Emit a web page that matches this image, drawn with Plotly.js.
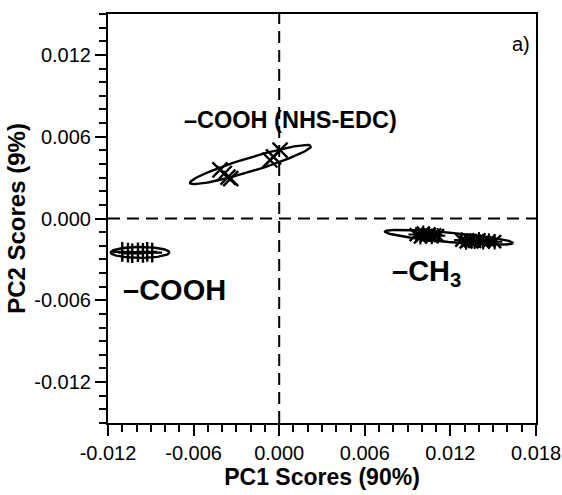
<!DOCTYPE html>
<html>
<head>
<meta charset="utf-8">
<script src="https://cdn.plot.ly/plotly-3.0.1.min.js"></script>
<style>html,body{margin:0;padding:0;background:#fff;}#chart{width:562px;height:495px;}</style>
</head>
<body>
<div id="chart"></div>
<script>
// ---- Data ----
const groupNames = ['-COOH', '-COOH (NHS-EDC)', '-CH3'];

const coohX = [-0.01100, -0.01060, -0.01030, -0.00990, -0.00955, -0.00925, -0.00890];
const coohY = [-0.00245, -0.00250, -0.00255, -0.00248, -0.00252, -0.00245, -0.00250];

const nhsX = [-0.00415, -0.00385, -0.00359, -0.00340, -0.00065, -0.00040, 0.00006];
const nhsY = [0.00356, 0.00330, 0.00304, 0.00292, 0.00429, 0.00452, 0.00502];

const ch3X = [0.0096, 0.0099, 0.0101, 0.0103, 0.0105, 0.0107, 0.0109, 0.0111, 0.0128, 0.0131, 0.0134, 0.0137, 0.0140, 0.0143, 0.0147, 0.0151];
const ch3Y = [-0.00118, -0.00135, -0.00108, -0.00128, -0.00115, -0.00132, -0.00120, -0.00126, -0.00158, -0.00172, -0.00162, -0.00168, -0.00156, -0.00171, -0.00165, -0.00170];

// confidence ellipses: centre, major half-axis vector, minor half-axis vector
const ellCx = [-0.00975, -0.00201, 0.01190];
const ellCy = [-0.00249, 0.00396, -0.00138];
const ellAx = [0.00205, 0.00424, 0.004486];
const ellAy = [0.00000, 0.001357, -0.000418];
const ellBx = [0.00000, 0.000140, -0.000028];
const ellBy = [0.00040, -0.000480, -0.00034];

const xTickVals = [-0.012, -0.006, 0.000, 0.006, 0.012, 0.018];
const xTickText = ['-0.012', '-0.006', '0.000', '0.006', '0.012', '0.018'];
const yTickVals = [-0.012, -0.006, 0.000, 0.006, 0.012];
const yTickText = ['-0.012', '-0.006', '0.000', '0.006', '0.012'];

// ---- Build traces ----
const FONT = 'Liberation Sans, Arial, sans-serif';
const traces = [];
for (let i = 0; i < ellCx.length; i++) {
  const ex = [], ey = [];
  for (let k = 0; k <= 120; k++) {
    const t = 2 * Math.PI * k / 120;
    ex.push(ellCx[i] + Math.cos(t) * ellAx[i] + Math.sin(t) * ellBx[i]);
    ey.push(ellCy[i] + Math.cos(t) * ellAy[i] + Math.sin(t) * ellBy[i]);
  }
  traces.push({x: ex, y: ey, mode: 'lines', line: {color: '#000', width: 2.4}, hoverinfo: 'skip', showlegend: false});
}
traces.push({x: coohX, y: coohY, mode: 'markers', name: groupNames[0], showlegend: false,
  marker: {symbol: 'cross-thin', size: 14, line: {color: '#000', width: 2.4}}});
traces.push({x: nhsX, y: nhsY, mode: 'markers', name: groupNames[1], showlegend: false,
  marker: {symbol: 'x-thin', size: 15, line: {color: '#000', width: 2.4}}});
traces.push({x: ch3X, y: ch3Y, mode: 'markers', name: groupNames[2], showlegend: false,
  marker: {symbol: 'x-thin', size: 13, line: {color: '#000', width: 2.4}}});
traces.push({x: ch3X, y: ch3Y, mode: 'markers', name: groupNames[2], showlegend: false,
  marker: {symbol: 'cross-thin', size: 11, line: {color: '#000', width: 2}}});

const axisCommon = {
  showgrid: false, zeroline: false, showline: true, linecolor: '#000', linewidth: 2,
  mirror: true, ticks: 'outside', ticklen: 11, tickwidth: 2, tickcolor: '#000',
  tickfont: {family: FONT, size: 20, color: '#000'},
  minor: {dtick: 0.001, ticks: 'outside', ticklen: 7, tickwidth: 2, tickcolor: '#000', showgrid: false}
};

const layout = {
  width: 562, height: 495,
  margin: {l: 108, r: 26, t: 14, b: 72},
  paper_bgcolor: '#fff', plot_bgcolor: '#fff',
  showlegend: false,
  xaxis: Object.assign({}, axisCommon, {
    range: [-0.012, 0.018], tickvals: xTickVals, ticktext: xTickText,
    title: {text: 'PC1 Scores (90%)', font: {family: FONT, size: 23, color: '#000', weight: 'bold'}, standoff: 4},
    minor: Object.assign({}, axisCommon.minor, {tick0: -0.012})
  }),
  yaxis: Object.assign({}, axisCommon, {
    range: [-0.015, 0.015], tickvals: yTickVals, ticktext: yTickText,
    title: {text: 'PC2 Scores (9%)', font: {family: FONT, size: 24, color: '#000', weight: 'bold'}, standoff: 2},
    minor: Object.assign({}, axisCommon.minor, {tick0: 0})
  }),
  shapes: [
    {type: 'line', xref: 'x', yref: 'paper', x0: 0, x1: 0, y0: 0, y1: 1,
     line: {color: '#000', width: 2, dash: '12px,7px'}, layer: 'below'},
    {type: 'line', xref: 'paper', yref: 'y', x0: 0, x1: 1, y0: 0, y1: 0,
     line: {color: '#000', width: 2, dash: '12px,7px'}, layer: 'below'}
  ],
  annotations: [
    {x: 0.00076, y: 0.00722, xref: 'x', yref: 'y', text: '<b>\u2013COOH (NHS-EDC)</b>', showarrow: false,
     font: {family: FONT, size: 23.5, color: '#000'}},
    {x: -0.00737, y: -0.00524, xref: 'x', yref: 'y', text: '<b>\u2013COOH</b>', showarrow: false,
     font: {family: FONT, size: 29, color: '#000'}},
    {x: 0.01030, y: -0.00400, xref: 'x', yref: 'y', text: '<b>\u2013CH<sub>3</sub></b>', showarrow: false,
     font: {family: FONT, size: 29, color: '#000'}},
    {x: 0.01695, y: 0.0128, xref: 'x', yref: 'y', text: 'a)', showarrow: false,
     font: {family: FONT, size: 20, color: '#000'}}
  ]
};

Plotly.newPlot('chart', traces, layout, {staticPlot: true, displayModeBar: false});
</script>
</body>
</html>
